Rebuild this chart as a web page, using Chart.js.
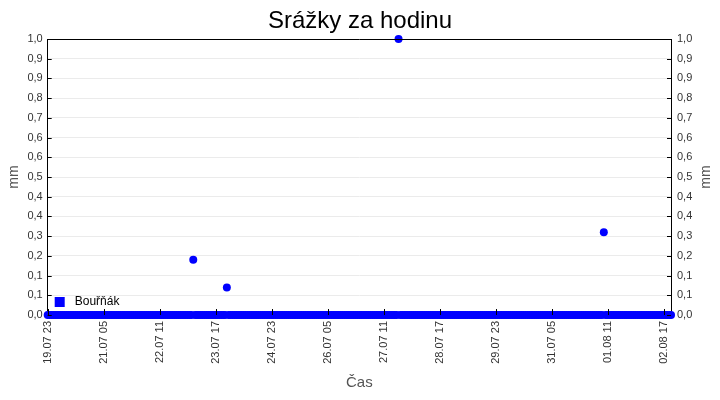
<!DOCTYPE html>
<html>
<head>
<meta charset="utf-8">
<script src="https://cdn.jsdelivr.net/npm/chart.js@4"></script>
<style>
  html, body { margin: 0; padding: 0; background: #fff; }
  #wrap { width: 720px; height: 400px; }
</style>
</head>
<body>
<div id="wrap"><canvas id="chart"></canvas></div>
<script>
// Hourly rainfall, station Bouřňák, first value 19.07 23:00
const seriesName = 'Bouřňák';
const startHour = { day: 19, month: 7, hour: 23 };

const values = [
  // 19.07 (23)
  0,
  // 20.07
  0,0,0,0,0,0,0,0,0,0,0,0,0,0,0,0,0,0,0,0,0,0,0,0,
  // 21.07
  0,0,0,0,0,0,0,0,0,0,0,0,0,0,0,0,0,0,0,0,0,0,0,0,
  // 22.07
  0,0,0,0,0,0,0,0,0,0,0,0,0,0,0,0,0,0,0,0,0,0,0,0,
  // 23.07
  0,0,0,0,0,0.2,0,0,0,0,0,0,0,0,0,0,0,0,0,0,0,0,0,0.1,
  // 24.07
  0,0,0,0,0,0,0,0,0,0,0,0,0,0,0,0,0,0,0,0,0,0,0,0,
  // 25.07
  0,0,0,0,0,0,0,0,0,0,0,0,0,0,0,0,0,0,0,0,0,0,0,0,
  // 26.07
  0,0,0,0,0,0,0,0,0,0,0,0,0,0,0,0,0,0,0,0,0,0,0,0,
  // 27.07
  0,0,0,0,0,0,0,0,0,0,0,0,0,0,0,0,0,0,0,1.0,0,0,0,0,
  // 28.07
  0,0,0,0,0,0,0,0,0,0,0,0,0,0,0,0,0,0,0,0,0,0,0,0,
  // 29.07
  0,0,0,0,0,0,0,0,0,0,0,0,0,0,0,0,0,0,0,0,0,0,0,0,
  // 30.07
  0,0,0,0,0,0,0,0,0,0,0,0,0,0,0,0,0,0,0,0,0,0,0,0,
  // 31.07
  0,0,0,0,0,0,0,0,0,0,0,0,0,0,0,0,0,0,0,0,0,0,0,0,
  // 01.08
  0,0,0,0,0,0,0,0,0,0.3,0,0,0,0,0,0,0,0,0,0,0,0,0,0,
  // 02.08 (00 - 21)
  0,0,0,0,0,0,0,0,0,0,0,0,0,0,0,0,0,0,0,0,0,0
];

const labelEvery = 30;      // one x label every 30 hours
const yMax = 1.0;
const yStep = 1 / 14;

const pad = n => String(n).padStart(2, '0');
const t0 = Date.UTC(2000, startHour.month - 1, startHour.day, startHour.hour);
const labels = values.map((_, i) => {
  const d = new Date(t0 + i * 3600000);
  return `${pad(d.getUTCDate())}.${pad(d.getUTCMonth() + 1)} ${pad(d.getUTCHours())}`;
});

const fmtY = v => v.toFixed(1).replace('.', ',');
const BLUE = '#0000ff';

Chart.defaults.font.family = "'Liberation Sans', Arial, sans-serif";
Chart.defaults.font.size = 11;
Chart.defaults.color = '#333';

// inner ticks, top border, legend and right axis title
const frame = {
  id: 'frame',
  afterDatasetsDraw(chart) {
    const { ctx, chartArea: a, scales } = chart;
    ctx.save();
    ctx.strokeStyle = '#000';
    ctx.lineWidth = 1;
    ctx.beginPath();
    scales.y.ticks.forEach(t => {
      const py = Math.round(scales.y.getPixelForValue(t.value)) + 0.5;
      ctx.moveTo(a.left, py); ctx.lineTo(a.left + 4, py);
      ctx.moveTo(a.right - 4, py); ctx.lineTo(a.right, py);
    });
    scales.x.ticks.forEach(t => {
      const px = Math.round(scales.x.getPixelForValue(t.value)) + 0.5;
      ctx.moveTo(px, a.bottom); ctx.lineTo(px, a.bottom - 6);
    });
    const top = Math.round(a.top) + 0.5;
    ctx.moveTo(a.left, top); ctx.lineTo(a.right, top);
    ctx.stroke();
    ctx.restore();
  },
  afterDraw(chart) {
    const { ctx, chartArea: a } = chart;
    ctx.save();
    // legend inside plot, bottom left
    ctx.fillStyle = BLUE;
    ctx.fillRect(a.left + 7, a.bottom - 18, 10, 10);
    ctx.fillStyle = '#000';
    ctx.font = "12px 'Liberation Sans', Arial, sans-serif";
    ctx.textBaseline = 'middle';
    ctx.fillText(chart.data.datasets[0].label, a.left + 27, a.bottom - 13);
    // right axis title, reading bottom to top like the left one
    ctx.fillStyle = '#555';
    ctx.font = "14px 'Liberation Sans', Arial, sans-serif";
    ctx.textAlign = 'center';
    ctx.translate(706, (a.top + a.bottom) / 2);
    ctx.rotate(-Math.PI / 2);
    ctx.fillText('mm', 0, 0);
    ctx.restore();
  }
};

new Chart(document.getElementById('chart'), {
  type: 'line',
  data: {
    labels,
    datasets: [{
      label: seriesName,
      data: values,
      showLine: false,
      pointRadius: 4,
      pointBorderWidth: 0,
      pointBackgroundColor: BLUE,
      pointBorderColor: BLUE,
      clip: false
    }]
  },
  options: {
    responsive: true,
    maintainAspectRatio: false,
    animation: false,
    layout: { padding: 0 },
    plugins: {
      legend: { display: false },
      tooltip: { enabled: false },
      title: {
        display: true,
        text: 'Srážky za hodinu',
        color: '#000',
        font: { size: 24, weight: 'normal' },
        padding: { top: 7, bottom: 3.2 }
      }
    },
    scales: {
      x: {
        type: 'category',
        afterBuildTicks: s => { s.ticks = s.ticks.filter(t => t.value % labelEvery === 0); },
        afterFit: s => { s.height = 85; },
        grid: { display: false, drawTicks: false },
        border: { display: true, color: '#000', width: 1 },
        ticks: { autoSkip: false, minRotation: 90, maxRotation: 90, padding: 6, color: '#333' },
        title: { display: true, text: 'Čas', color: '#555', font: { size: 15 }, padding: { top: 4, bottom: 8 } }
      },
      y: {
        position: 'left',
        min: 0,
        max: yMax,
        afterFit: s => { s.width = 47.7; },
        grid: { color: '#ebebeb', drawTicks: false },
        border: { display: true, color: '#000', width: 1 },
        ticks: { stepSize: yStep, padding: 5, callback: fmtY, color: '#333' },
        title: { display: true, text: 'mm', color: '#555', font: { size: 14 }, padding: { top: 6, bottom: 0 } }
      },
      y2: {
        position: 'right',
        min: 0,
        max: yMax,
        afterFit: s => { s.width = 49; },
        grid: { display: false, drawTicks: false },
        border: { display: true, color: '#000', width: 1 },
        ticks: { stepSize: yStep, padding: 6, callback: fmtY, color: '#333' }
      }
    }
  },
  plugins: [frame]
});
</script>
</body>
</html>
